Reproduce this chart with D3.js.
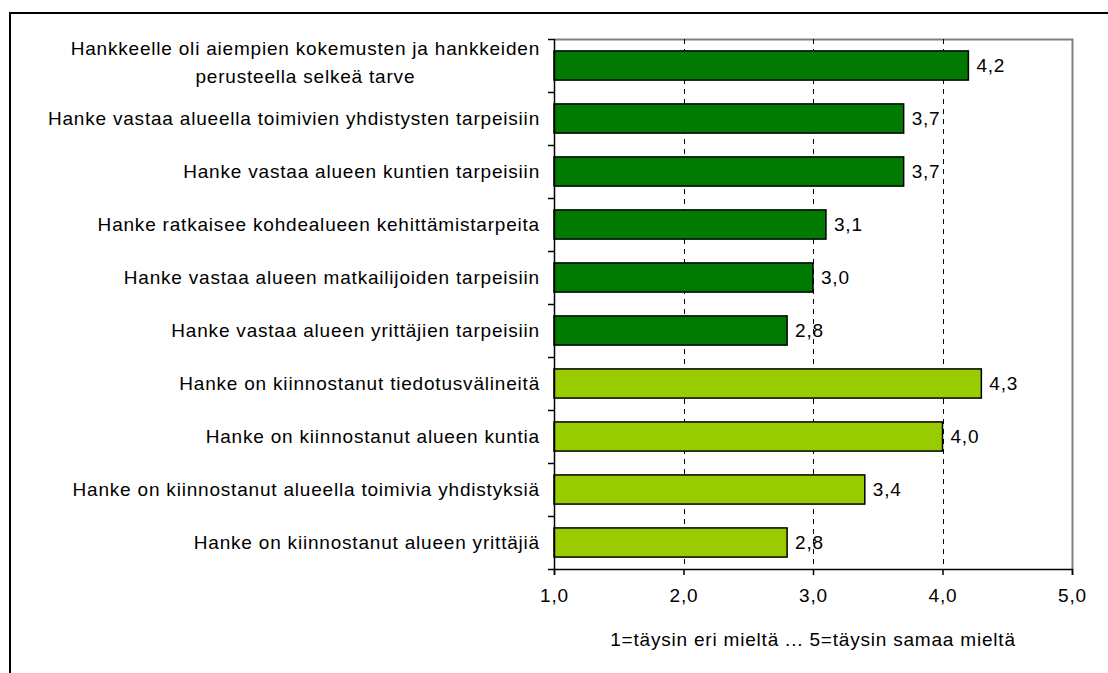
<!DOCTYPE html>
<html lang="fi">
<head>
<meta charset="utf-8">
<title>Hankkeen tarve</title>
<script src="https://d3js.org/d3.v7.min.js"></script>
<style>
  body { margin: 0; background: #fff; }
  text { font-family: "Liberation Sans", Arial, sans-serif; fill: #000; letter-spacing: 0.8px; }
</style>
</head>
<body>
<script>
// data
var categories = [
  "Hankkeelle oli aiempien kokemusten ja hankkeiden|perusteella selkeä tarve",
  "Hanke vastaa alueella toimivien yhdistysten tarpeisiin",
  "Hanke vastaa alueen kuntien tarpeisiin",
  "Hanke ratkaisee kohdealueen kehittämistarpeita",
  "Hanke vastaa alueen matkailijoiden tarpeisiin",
  "Hanke vastaa alueen yrittäjien tarpeisiin",
  "Hanke on kiinnostanut tiedotusvälineitä",
  "Hanke on kiinnostanut alueen kuntia",
  "Hanke on kiinnostanut alueella toimivia yhdistyksiä",
  "Hanke on kiinnostanut alueen yrittäjiä"
];
var values = [4.2, 3.7, 3.7, 3.1, 3.0, 2.8, 4.3, 4.0, 3.4, 2.8];
var groups = ["tarve", "tarve", "tarve", "tarve", "tarve", "tarve", "kiinnostus", "kiinnostus", "kiinnostus", "kiinnostus"];
var xTicks = [1, 2, 3, 4, 5];
var xTitle = "1=täysin eri mieltä ... 5=täysin samaa mieltä";

var W = 1108, H = 673;
var margin = {top: 39, left: 554, right: 36, bottom: 104};
var width = W - margin.left - margin.right;
var height = H - margin.top - margin.bottom;
var fs = "19px";
var fmt = function (d) { return d3.format(".1f")(d).replace(".", ","); };

var svg = d3.select("body").append("svg")
  .attr("width", W).attr("height", H);

// outer frame
svg.append("rect")
  .attr("x", 10).attr("y", 13)
  .attr("width", W + 20).attr("height", H + 20)
  .attr("fill", "none").attr("stroke", "#000").attr("stroke-width", 2);

var g = svg.append("g")
  .attr("transform", "translate(" + margin.left + "," + margin.top + ")");

var x = d3.scaleLinear().domain([1, 5]).range([0, width]);
var y = d3.scaleBand().domain(d3.range(categories.length)).range([0, height])
  .paddingInner(0.45).paddingOuter(0.225);
var color = d3.scaleOrdinal().domain(["tarve", "kiinnostus"]).range(["#007A00", "#99CC00"]);

// plot area frame (top / right gray)
g.append("path")
  .attr("d", "M0,0.5H" + (width + 0.5) + "V" + height)
  .attr("fill", "none").attr("stroke", "#808080").attr("stroke-width", 2);

// dashed gridlines
g.selectAll(".grid").data(xTicks.slice(1, -1)).enter().append("line")
  .attr("x1", function (d) { return Math.round(x(d)) + 0.5; })
  .attr("x2", function (d) { return Math.round(x(d)) + 0.5; })
  .attr("y1", 0).attr("y2", height)
  .attr("stroke", "#000").attr("stroke-dasharray", "5,5");

// bars
g.selectAll(".bar").data(values).enter().append("rect")
  .attr("x", x(1))
  .attr("y", function (d, i) { return y(i); })
  .attr("width", function (d) { return x(d) - x(1); })
  .attr("height", y.bandwidth())
  .attr("fill", function (d, i) { return color(groups[i]); })
  .attr("stroke", "#000").attr("stroke-width", 1.5);

// value labels
g.selectAll(".val").data(values).enter().append("text")
  .attr("x", function (d) { return x(d) + 8; })
  .attr("y", function (d, i) { return y(i) + y.bandwidth() / 2; })
  .attr("dy", "0.35em")
  .style("font-size", fs)
  .text(fmt);

// y axis: line + ticks at band boundaries
g.append("line").attr("x1", 0.5).attr("x2", 0.5).attr("y1", 0).attr("y2", height)
  .attr("stroke", "#000").attr("stroke-width", 1.5);
g.selectAll(".ytick").data(d3.range(categories.length + 1)).enter().append("line")
  .attr("x1", -6).attr("x2", 0)
  .attr("y1", function (d) { return Math.round(d * height / categories.length) + 0.5; })
  .attr("y2", function (d) { return Math.round(d * height / categories.length) + 0.5; })
  .attr("stroke", "#000").attr("stroke-width", 1.5);

// category labels
var lab = g.selectAll(".cat").data(categories).enter().append("text")
  .style("font-size", fs)
  .attr("transform", function (d, i) {
    return "translate(-14," + (y(i) + y.bandwidth() / 2) + ")";
  });
lab.each(function (d) {
  var lines = d.split("|");
  var t = d3.select(this);
  if (lines.length > 1) {
    lines.forEach(function (l, k) {
      t.append("tspan").attr("x", 0).attr("text-anchor", "end")
        .attr("dy", k === 0 ? "-0.55em" : "1.45em").text(l);
    });
  } else {
    t.attr("text-anchor", "end").attr("dy", "0.35em").text(d);
  }
});
// center the second line of a wrapped label under the first
lab.filter(function (d) { return d.indexOf("|") >= 0; }).each(function () {
  var spans = d3.select(this).selectAll("tspan").nodes();
  var w0 = spans[0].getComputedTextLength();
  var w1 = spans[1].getComputedTextLength();
  d3.select(spans[1]).attr("x", -(w0 - w1) / 2);
});

// x axis
var xAxis = g.append("g")
  .attr("transform", "translate(0," + height + ")")
  .call(d3.axisBottom(x).tickValues(xTicks).tickFormat(fmt).tickSize(6).tickPadding(14));
xAxis.select(".domain").attr("stroke", "#000").attr("stroke-width", 1.5);
xAxis.selectAll(".tick line").attr("stroke-width", 1.5);
xAxis.selectAll("text").style("font-size", fs).style("font-family", "'Liberation Sans', Arial, sans-serif");

g.append("text")
  .attr("x", width / 2).attr("y", height + 77)
  .attr("text-anchor", "middle")
  .style("font-size", fs)
  .text(xTitle);
</script>
</body>
</html>
